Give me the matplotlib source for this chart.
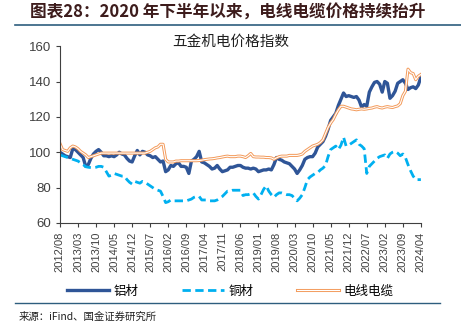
import matplotlib
matplotlib.use("Agg")
import matplotlib.pyplot as plt
import matplotlib.patheffects as pe
from matplotlib.lines import Line2D
import numpy as np
import pandas as pd

plt.rcParams['font.family'] = ['Liberation Sans', 'Noto Sans CJK SC']

# monthly index values, 2012/08 .. 2024/04
months = pd.period_range('2012-08', '2024-04', freq='M')

aluminum = [100, 99, 98, 97.5, 97, 102, 101.5, 100, 98.5, 97,
            92, 93, 96.5, 99, 100.5, 101.5, 100, 98, 98, 97.5,
            98, 97.5, 98.5, 100, 99, 98.5, 96.5, 95, 94.5, 98,
            101, 98.5, 100.5, 100, 98.5, 98, 97, 97.5, 96, 94.5,
            95, 89, 90, 92.5, 92, 93.5, 94, 92, 92, 91.5,
            88, 95, 96, 97.5, 100.5, 94.5, 94, 93, 92, 90.5,
            91, 92.5, 90.5, 89, 89.5, 90, 91.5, 91.5, 92, 92.5,
            92.5, 91.5, 91, 91, 90.5, 91, 90.5, 89, 89.5, 90,
            90, 90.5, 90, 93, 97, 96, 95.5, 94.5, 94, 93.5,
            92, 90.5, 88, 90, 92.5, 96, 97, 97.5, 97.5, 99.5,
            103, 104.5, 106, 109, 113, 118, 120, 122, 126.5, 130,
            133.5, 131.5, 132, 131.5, 131, 131.5, 129.5, 125.5, 127, 126,
            134, 137, 139.5, 140, 138.5, 134, 140, 139, 130.5, 132,
            134.5, 139, 140, 141, 139, 135.5, 136.5, 137, 136, 138,
            142.5]

copper = [98.5, 98, 97.5, 97, 96.5, 96, 95.5, 95, 94, 93,
          91.8, 91.5, 91.3, 91.3, 91.5, 92, 92, 91.5, 89, 86.5,
          87, 88, 87.5, 87, 86.5, 86.5, 84.5, 83, 82, 83.5,
          83, 82.5, 83.5, 83, 82, 81, 80, 79, 78.5, 78,
          75, 71.5, 72, 73, 72.5, 72.5, 72.5, 72.5, 72.5, 72.5,
          73, 73.5, 74.5, 75, 75, 73, 73, 73, 72.5, 72.5,
          72.5, 73, 74, 75, 76.5, 78, 78, 78.5, 78.5, 78.5,
          78.5, 75.5, 76, 76, 76.5, 77, 75, 73.5, 76, 79,
          81, 78, 76, 74.5, 76, 77, 77, 76.5, 76, 76,
          75.5, 74, 72.5, 74, 76, 80, 84.5, 86, 87, 88,
          88.5, 90, 91, 92.5, 97.5, 101.5, 102.5, 103.5, 101.5, 104,
          108.5, 103.5, 104, 105, 106, 107, 104.5, 103.5, 102, 88,
          92, 93.5, 95, 96.5, 97.5, 98, 98.5, 96.5, 99, 100,
          100.5, 99.5, 98, 99, 97, 93, 89.5, 86.5, 84.5, 84.5,
          84.5]

cable = [105, 101.5, 101, 100.5, 102.5, 103.5, 103, 102, 100.5, 99.5,
         98.5, 97, 97.5, 98, 98.5, 99, 99.5, 99.5, 99.5, 99.5,
         99.5, 99.5, 99.5, 99.5, 99.5, 99.5, 99.5, 99.5, 99.5, 99.5,
         99.5, 99.5, 99.5, 99.5, 100, 100.5, 101.5, 102.5, 103, 104.5,
         104.5, 96, 94.5, 94.5, 94.5, 95, 95, 95.2, 95.2, 95.2,
         95.2, 95.2, 95.2, 95.2, 95.3, 95.5, 95.8, 96, 96.2, 96.3,
         96.5, 96.8, 97, 97.3, 97.6, 97.8, 97.5, 97.5, 97.5, 97.8,
         97.8, 97.5, 97, 98, 99.3, 97.5, 97.3, 97.3, 97.2, 97.2,
         97, 97, 96.8, 96, 96.8, 97.5, 97.8, 97.8, 97.8, 98.2,
         98.2, 98.2, 98.2, 98.5, 99, 100.5, 101.5, 102.5, 103.5, 104,
         104.5, 105.5, 107, 110.5, 114, 116.5, 118.5, 121.5, 124, 126,
         126, 125.5, 125, 124.5, 124.3, 124, 124.3, 124.5, 124.3, 124.5,
         124.8, 125, 125.5, 125.8, 125.3, 125, 125.5, 125.8, 125.5, 125.3,
         125.8, 126.2, 127.5, 132, 134.5, 147, 145, 144.5, 141, 143,
         144]

x = np.arange(len(months))
tick_pos = x[::7]
tick_labels = [m.strftime('%Y/%m') for m in months[::7]]

fig = plt.figure(figsize=(4.61, 3.25), dpi=100)
ax = fig.add_axes([0.130, 0.314, 0.783, 0.544])

ax.plot(x, aluminum, color='#2F5597', lw=2.4, label='铝材')
ax.plot(x, copper, color='#00B0F0', lw=2.0, dashes=(3, 1.6), label='铜材')
ax.plot(x, cable, color='white', lw=0.8, label='电线电缆',
        path_effects=[pe.Stroke(linewidth=2.2, foreground='#F39A5A'), pe.Normal()])

ax.set_xlim(0, len(months) - 1)
ax.set_ylim(60, 160)
ax.set_yticks([60, 80, 100, 120, 140, 160])
ax.set_xticks(tick_pos)
ax.set_xticklabels(tick_labels, rotation=90, fontsize=8)
ax.tick_params(axis='y', labelsize=9.5, length=3, direction='out', colors='#404040')
ax.tick_params(axis='x', length=3, direction='out', colors='#404040')
for s in ['top', 'right']:
    ax.spines[s].set_visible(False)
for s in ['left', 'bottom']:
    ax.spines[s].set_color('#404040')

# chart title sits just inside the top of the plot area
fig.text(0.5, 0.871, '五金机电价格指数', fontsize=10.5, ha='center', va='center',
         color='#202020', family=['Noto Sans CJK SC'])

fig.legend(loc='center', bbox_to_anchor=(0.5, 0.104), ncol=3, frameon=False,
           handlelength=3.3, handletextpad=0.4, columnspacing=3.5,
           prop={'family': ['Noto Sans CJK SC'], 'size': 9})

fig.text(0.065, 0.962, '图表28：2020 年下半年以来，电线电缆价格持续抬升', fontsize=12,
         fontweight='bold', style='italic', color='#3d1c1c', va='center',
         family=['Noto Sans CJK SC'])
fig.add_artist(Line2D([0.033, 1.0], [0.923, 0.923], color='#2E5E7E', lw=1.2))
fig.add_artist(Line2D([0.033, 0.955], [0.068, 0.068], color='#2E5E7E', lw=1.0))
fig.text(0.04, 0.025, '来源：iFind、国金证券研究所', fontsize=7.5, color='#202020',
         family=['Noto Sans CJK SC', 'DejaVu Sans'], va='center')

fig.savefig('out.png', dpi=100)
